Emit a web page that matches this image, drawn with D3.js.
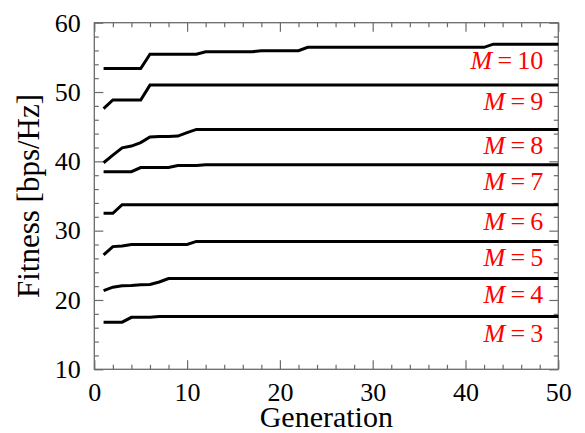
<!DOCTYPE html>
<html>
<head>
<meta charset="utf-8">
<script src="https://cdn.jsdelivr.net/npm/d3@7"></script>
<style>
  html, body { margin: 0; padding: 0; background: #fff; }
  svg { display: block; }
</style>
</head>
<body>
<svg id="chart" width="585" height="433"></svg>
<script>
// Best fitness per generation for each number of elements M
const generations = d3.range(1, 51);

const fitnessM3 = [
  16.8, 16.8, 16.8, 17.5, 17.5, 17.5, 17.6, 17.6, 17.6, 17.6,
  17.6, 17.6, 17.6, 17.6, 17.6, 17.6, 17.6, 17.6, 17.6, 17.6,
  17.6, 17.6, 17.6, 17.6, 17.6, 17.6, 17.6, 17.6, 17.6, 17.6,
  17.6, 17.6, 17.6, 17.6, 17.6, 17.6, 17.6, 17.6, 17.6, 17.6,
  17.6, 17.6, 17.6, 17.6, 17.6, 17.6, 17.6, 17.6, 17.6, 17.6
];
const fitnessM4 = [
  21.35, 21.85, 22.05, 22.1, 22.2, 22.25, 22.6, 23.1, 23.1, 23.1,
  23.1, 23.1, 23.1, 23.1, 23.1, 23.1, 23.1, 23.1, 23.1, 23.1,
  23.1, 23.1, 23.1, 23.1, 23.1, 23.1, 23.1, 23.1, 23.1, 23.1,
  23.1, 23.1, 23.1, 23.1, 23.1, 23.1, 23.1, 23.1, 23.1, 23.1,
  23.1, 23.1, 23.1, 23.1, 23.1, 23.1, 23.1, 23.1, 23.1, 23.1
];
const fitnessM5 = [
  26.5, 27.7, 27.8, 28.0, 28.0, 28.0, 28.0, 28.0, 28.0, 28.0,
  28.45, 28.45, 28.45, 28.45, 28.45, 28.45, 28.45, 28.45, 28.45, 28.45,
  28.45, 28.45, 28.45, 28.45, 28.45, 28.45, 28.45, 28.45, 28.45, 28.45,
  28.45, 28.45, 28.45, 28.45, 28.45, 28.45, 28.45, 28.45, 28.45, 28.45,
  28.45, 28.45, 28.45, 28.45, 28.45, 28.45, 28.45, 28.45, 28.45, 28.45
];
const fitnessM6 = [
  32.5, 32.5, 33.75, 33.75, 33.75, 33.75, 33.75, 33.75, 33.75, 33.75,
  33.75, 33.75, 33.75, 33.75, 33.75, 33.75, 33.75, 33.75, 33.75, 33.75,
  33.75, 33.75, 33.75, 33.75, 33.75, 33.75, 33.75, 33.75, 33.75, 33.75,
  33.75, 33.75, 33.75, 33.75, 33.75, 33.75, 33.75, 33.75, 33.75, 33.75,
  33.75, 33.75, 33.75, 33.75, 33.75, 33.75, 33.75, 33.75, 33.75, 33.75
];
const fitnessM7 = [
  38.5, 38.5, 38.5, 38.5, 39.1, 39.1, 39.1, 39.1, 39.4, 39.4,
  39.4, 39.5, 39.5, 39.5, 39.5, 39.5, 39.5, 39.5, 39.5, 39.5,
  39.5, 39.5, 39.5, 39.5, 39.5, 39.5, 39.5, 39.5, 39.5, 39.5,
  39.5, 39.5, 39.5, 39.5, 39.5, 39.5, 39.5, 39.5, 39.5, 39.5,
  39.5, 39.5, 39.5, 39.5, 39.5, 39.5, 39.5, 39.5, 39.5, 39.5
];
const fitnessM8 = [
  39.8, 40.9, 41.95, 42.2, 42.7, 43.5, 43.6, 43.6, 43.65, 44.15,
  44.6, 44.6, 44.6, 44.6, 44.6, 44.6, 44.6, 44.6, 44.6, 44.6,
  44.6, 44.6, 44.6, 44.6, 44.6, 44.6, 44.6, 44.6, 44.6, 44.6,
  44.6, 44.6, 44.6, 44.6, 44.6, 44.6, 44.6, 44.6, 44.6, 44.6,
  44.6, 44.6, 44.6, 44.6, 44.6, 44.6, 44.6, 44.6, 44.6, 44.6
];
const fitnessM9 = [
  47.6, 48.85, 48.85, 48.85, 48.85, 51.0, 51.0, 51.0, 51.0, 51.0,
  51.0, 51.0, 51.0, 51.0, 51.0, 51.0, 51.0, 51.0, 51.0, 51.0,
  51.0, 51.0, 51.0, 51.0, 51.0, 51.0, 51.0, 51.0, 51.0, 51.0,
  51.0, 51.0, 51.0, 51.0, 51.0, 51.0, 51.0, 51.0, 51.0, 51.0,
  51.0, 51.0, 51.0, 51.0, 51.0, 51.0, 51.0, 51.0, 51.0, 51.0
];
const fitnessM10 = [
  53.4, 53.4, 53.4, 53.4, 53.4, 55.45, 55.45, 55.45, 55.45, 55.45,
  55.45, 55.8, 55.8, 55.8, 55.8, 55.8, 55.8, 55.95, 55.95, 55.95,
  55.95, 55.95, 56.45, 56.45, 56.45, 56.45, 56.45, 56.45, 56.45, 56.45,
  56.45, 56.45, 56.45, 56.45, 56.45, 56.45, 56.45, 56.45, 56.45, 56.45,
  56.45, 56.45, 56.9, 56.9, 56.9, 56.9, 56.9, 56.9, 56.9, 56.9
];

const elementCounts = [3, 4, 5, 6, 7, 8, 9, 10];
const seriesValues = [fitnessM3, fitnessM4, fitnessM5, fitnessM6,
                      fitnessM7, fitnessM8, fitnessM9, fitnessM10];

const xMajorTicks = [0, 10, 20, 30, 40, 50];
const xMinorTicks = [2, 4, 6, 8, 12, 14, 16, 18, 22, 24, 26, 28, 32, 34, 36, 38, 42, 44, 46, 48];
const yMajorTicks = [10, 20, 30, 40, 50, 60];
const yMinorTicks = [12, 14, 16, 18, 22, 24, 26, 28, 32, 34, 36, 38, 42, 44, 46, 48, 52, 54, 56, 58];

const xTitle = "Generation";
const yTitle = "Fitness [bps/Hz]";

// ---- layout ----
const W = 585, H = 433;
const plotLeft = 94.3, plotRight = 558.3, plotTop = 22.7, plotBottom = 369.3;
const serif = "'Liberation Serif', 'Times New Roman', Times, serif";
const frameColor = "#6b6b6b";

const svg = d3.select("#chart").attr("font-family", serif);
svg.append("rect").attr("width", W).attr("height", H).attr("fill", "#fff");

const x = d3.scaleLinear().domain([0, 50]).range([plotLeft, plotRight]);
const y = d3.scaleLinear().domain([10, 60]).range([plotBottom, plotTop]);

// ---- axes with inward ticks on all four sides ----
function styleAxis(g) {
  g.attr("font-family", serif).attr("font-size", 26);
  g.select(".domain").remove();
  g.selectAll(".tick line").attr("stroke", frameColor).attr("stroke-width", 1.2);
  g.selectAll(".tick text")
    .attr("fill", "#000")
    .style("font-family", serif)
    .style("font-size", "26px");
}

svg.append("g").attr("transform", `translate(0,${plotBottom})`)
  .call(d3.axisBottom(x).tickValues(xMajorTicks).tickSize(-9).tickPadding(13).tickFormat(d3.format("d")))
  .call(styleAxis);
svg.append("g").attr("transform", `translate(0,${plotBottom})`)
  .call(d3.axisBottom(x).tickValues(xMinorTicks).tickSize(-4.5).tickFormat(""))
  .call(styleAxis);
svg.append("g").attr("transform", `translate(0,${plotTop})`)
  .call(d3.axisTop(x).tickValues(xMajorTicks).tickSize(-9).tickFormat(""))
  .call(styleAxis);
svg.append("g").attr("transform", `translate(0,${plotTop})`)
  .call(d3.axisTop(x).tickValues(xMinorTicks).tickSize(-4.5).tickFormat(""))
  .call(styleAxis);

svg.append("g").attr("transform", `translate(${plotLeft},0)`)
  .call(d3.axisLeft(y).tickValues(yMajorTicks).tickSize(-9).tickPadding(13.5).tickFormat(d3.format("d")))
  .call(styleAxis);
svg.append("g").attr("transform", `translate(${plotLeft},0)`)
  .call(d3.axisLeft(y).tickValues(yMinorTicks).tickSize(-4.5).tickFormat(""))
  .call(styleAxis);
svg.append("g").attr("transform", `translate(${plotRight},0)`)
  .call(d3.axisRight(y).tickValues(yMajorTicks).tickSize(-9).tickFormat(""))
  .call(styleAxis);
svg.append("g").attr("transform", `translate(${plotRight},0)`)
  .call(d3.axisRight(y).tickValues(yMinorTicks).tickSize(-4.5).tickFormat(""))
  .call(styleAxis);

// frame
svg.append("rect")
  .attr("x", plotLeft).attr("y", plotTop)
  .attr("width", plotRight - plotLeft).attr("height", plotBottom - plotTop)
  .attr("fill", "none").attr("stroke", frameColor).attr("stroke-width", 1.3);

// ---- fitness curves ----
const line = d3.line()
  .x((d, i) => x(generations[i]))
  .y(d => y(d));

const series = elementCounts.map((m, k) => ({ m, values: seriesValues[k] }));

svg.append("g").selectAll("path")
  .data(series)
  .join("path")
  .attr("d", s => line(s.values))
  .attr("fill", "none")
  .attr("stroke", "#000")
  .attr("stroke-width", 3)
  .attr("stroke-linejoin", "miter");

// ---- M labels under each curve's end ----
const labels = svg.append("g")
  .selectAll("text")
  .data(series)
  .join("text")
  .attr("x", x(50) - 15)
  .attr("y", s => y(s.values[s.values.length - 1]) + 25)
  .attr("text-anchor", "end")
  .attr("fill", "#ff0000")
  .style("font-family", serif)
  .style("font-size", "26px");
labels.append("tspan").style("font-style", "italic").text("M");
labels.append("tspan").text(s => "\u2009=\u2009" + s.m);

// ---- axis titles ----
svg.append("text")
  .attr("x", (plotLeft + plotRight) / 2)
  .attr("y", 427)
  .attr("text-anchor", "middle")
  .style("font-family", serif)
  .style("font-size", "30px")
  .text(xTitle);

svg.append("text")
  .attr("transform", `translate(39,${(plotTop + plotBottom) / 2}) rotate(-90)`)
  .attr("text-anchor", "middle")
  .style("font-family", serif)
  .style("font-size", "31px")
  .text(yTitle);
</script>
</body>
</html>
